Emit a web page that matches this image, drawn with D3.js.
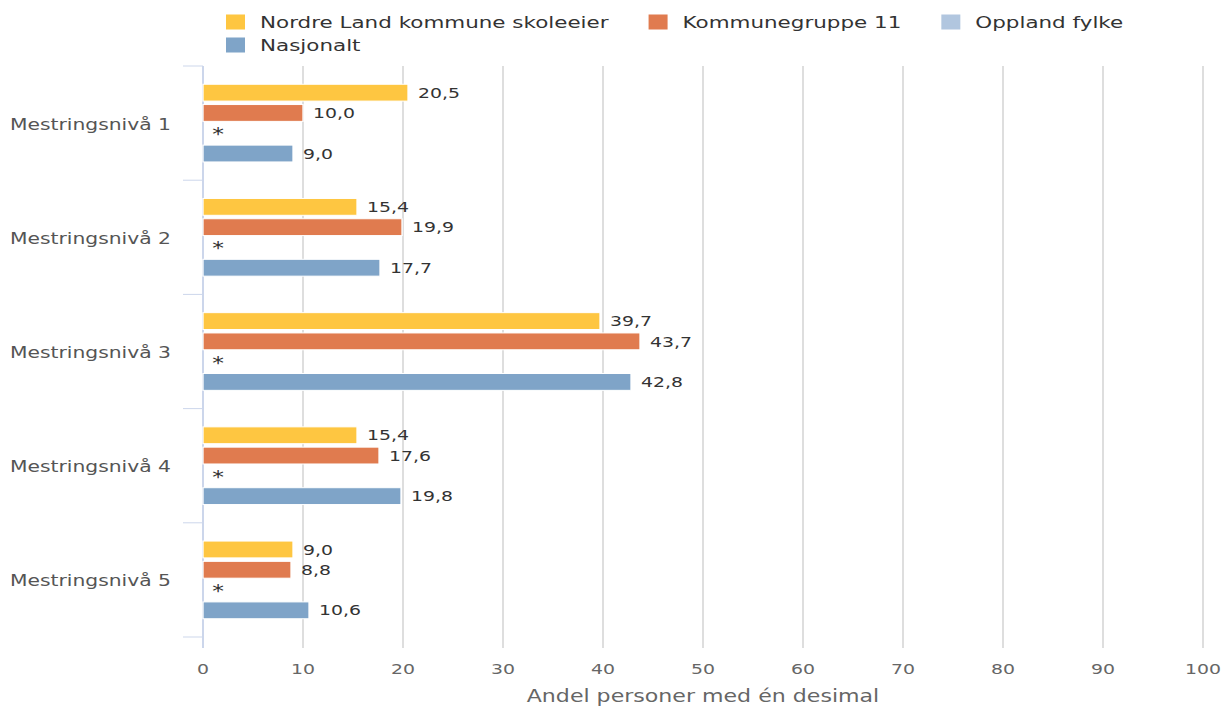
<!DOCTYPE html>
<html>
<head>
<meta charset="utf-8">
<script src="https://cdn.jsdelivr.net/npm/d3@7"></script>
<style>
  body { margin: 0; background: #fff; }
  svg { display: block; }
  text { font-family: "DejaVu Sans", Verdana, sans-serif; }
</style>
</head>
<body>
<svg id="chart"></svg>
<script>
// chart values
var categories = ["Mestringsnivå 1", "Mestringsnivå 2", "Mestringsnivå 3", "Mestringsnivå 4", "Mestringsnivå 5"];
var seriesNames = ["Nordre Land kommune skoleeier", "Kommunegruppe 11", "Oppland fylke", "Nasjonalt"];
var nordreLand = [20.5, 15.4, 39.7, 15.4, 9.0];
var kommunegruppe = [10.0, 19.9, 43.7, 17.6, 8.8];
var oppland = [null, null, null, null, null];   // drawn as "*"
var nasjonalt = [9.0, 17.7, 42.8, 19.8, 10.6];
var xTicks = [0, 10, 20, 30, 40, 50, 60, 70, 80, 90, 100];
var xTitle = "Andel personer med én desimal";

var colors = ["#fec641", "#e07b4f", "#b1c6df", "#7fa4c8"];
var seriesValues = [nordreLand, kommunegruppe, oppland, nasjonalt];

// the picture is stretched sideways, so draw in narrower units and stretch
var W = 1226, H = 706, S = 1.3;
var vw = W / S;
function px(v) { return v / S; }

var svg = d3.select("#chart")
    .attr("width", W).attr("height", H)
    .attr("viewBox", "0 0 " + vw + " " + H)
    .attr("preserveAspectRatio", "none");

var plotTop = 66, plotBottom = 637;

var x = d3.scaleLinear()
    .domain([0, 100])
    .range([px(203), px(1203)]);

var y = d3.scaleBand()
    .domain(categories)
    .range([plotTop, plotBottom]);

var ySub = d3.scaleBand()
    .domain(seriesNames)
    .range([0, y.bandwidth()])
    .paddingInner(0.17)
    .paddingOuter(0.9);

// grid lines
svg.append("g")
  .selectAll("line")
  .data(xTicks.slice(1))
  .enter().append("line")
    .attr("x1", function(d) { return x(d); })
    .attr("x2", function(d) { return x(d); })
    .attr("y1", plotTop)
    .attr("y2", plotBottom + 11)
    .attr("stroke", "#dedede")
    .attr("stroke-width", px(2));

// x tick labels
svg.append("g")
  .selectAll("text")
  .data(xTicks)
  .enter().append("text")
    .attr("x", function(d) { return x(d); })
    .attr("y", 674)
    .attr("text-anchor", "middle")
    .attr("font-size", 14.5)
    .attr("fill", "#666")
    .text(function(d) { return d; });

svg.append("text")
    .attr("x", (x(0) + x(100)) / 2)
    .attr("y", 702)
    .attr("text-anchor", "middle")
    .attr("font-size", 17)
    .attr("fill", "#666")
    .text(xTitle);

// category axis
var cat = svg.append("g");
cat.append("line")
    .attr("x1", x(0)).attr("x2", x(0))
    .attr("y1", plotTop).attr("y2", plotBottom + 11)
    .attr("stroke", "#ccd6eb")
    .attr("stroke-width", px(2));

var bounds = categories.map(function(c) { return y(c); }).concat([plotBottom]);
cat.selectAll("line.tick")
  .data(bounds)
  .enter().append("line")
    .attr("class", "tick")
    .attr("x1", px(183)).attr("x2", x(0))
    .attr("y1", function(d) { return d; })
    .attr("y2", function(d) { return d; })
    .attr("stroke", "#ccd6eb")
    .attr("stroke-width", 1);

cat.selectAll("text")
  .data(categories)
  .enter().append("text")
    .attr("x", px(171))
    .attr("y", function(d) { return y(d) + y.bandwidth() / 2 + 1; })
    .attr("dominant-baseline", "central")
    .attr("text-anchor", "end")
    .attr("font-size", 15.6)
    .attr("fill", "#555")
    .text(function(d) { return d; });

// bars
var fmt = function(v) { return d3.format(".1f")(v).replace(".", ","); };

seriesNames.forEach(function(name, si) {
  var g = svg.append("g");
  var vals = seriesValues[si];
  var rows = categories.map(function(c, i) { return { c: c, v: vals[i] }; });

  g.selectAll("rect")
    .data(rows.filter(function(d) { return d.v != null; }))
    .enter().append("rect")
      .attr("x", x(0))
      .attr("y", function(d) { return y(d.c) + ySub(name); })
      .attr("width", function(d) { return x(d.v) - x(0); })
      .attr("height", ySub.bandwidth())
      .attr("fill", colors[si])
      .attr("stroke", "#fff")
      .attr("stroke-width", 1);

  g.selectAll("text")
    .data(rows)
    .enter().append("text")
      .attr("x", function(d) { return d.v == null ? x(0) + px(15) : x(d.v) + px(10); })
      .attr("y", function(d) {
        var cy = y(d.c) + ySub(name) + ySub.bandwidth() / 2;
        return d.v == null ? cy + 7 : cy;
      })
      .attr("dominant-baseline", function(d) { return d.v == null ? null : "central"; })
      .attr("text-anchor", function(d) { return d.v == null ? "middle" : "start"; })
      .attr("font-size", function(d) { return d.v == null ? 18 : 14.5; })
      .attr("fill", "#333")
      .text(function(d) { return d.v == null ? "*" : fmt(d.v); });
});

// legend, flowed in rows like the original
var legend = svg.append("g");
var lx = px(226), ly = 22, maxX = px(1220), rowH = 23;
var sqW = px(19), sqH = 15, gap = px(15), itemGap = px(40);
seriesNames.forEach(function(name, i) {
  var item = legend.append("g");
  var t = item.append("text")
      .attr("x", sqW + gap)
      .attr("y", 0)
      .attr("dominant-baseline", "central")
      .attr("font-size", 16.5)
      .attr("fill", "#333")
      .text(name);
  var w = sqW + gap + t.node().getComputedTextLength();
  if (lx + w > maxX) { lx = px(226); ly += rowH; }
  item.append("rect")
      .attr("x", 0).attr("y", -sqH / 2)
      .attr("width", sqW).attr("height", sqH)
      .attr("fill", colors[i]);
  item.attr("transform", "translate(" + lx + "," + ly + ")");
  lx += w + itemGap;
});
</script>
</body>
</html>
